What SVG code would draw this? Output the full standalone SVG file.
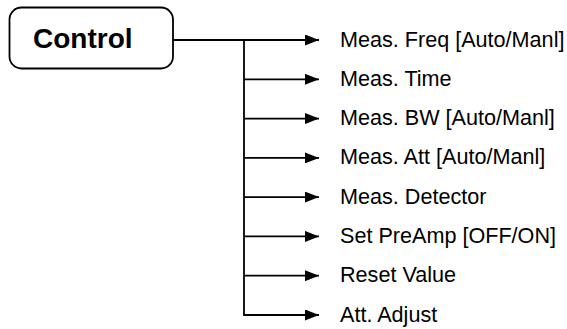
<svg xmlns="http://www.w3.org/2000/svg" width="567" height="329" viewBox="0 0 567 329">
<style>
.ln{stroke:#000;stroke-width:1.8;fill:none}
.lbl{font-family:"Liberation Sans",Arial,sans-serif;font-size:21.6px;fill:#000}
.ttl{font-family:"Liberation Sans",Arial,sans-serif;font-size:28px;font-weight:bold;fill:#000}
</style>
<defs>
<marker id="ah" markerWidth="14" markerHeight="11" refX="14" refY="5.5" orient="auto" markerUnits="userSpaceOnUse">
<path d="M0,0 L14,5.5 L0,11 Z" fill="#000"/>
</marker>
</defs>
<rect width="567" height="329" fill="#fff"/>
<g id="control">
<rect x="9.5" y="7.5" width="163.5" height="61" rx="12" ry="12" fill="#fff" stroke="#000" stroke-width="1.8"/>
<text class="ttl" x="33" y="48">Control</text>
</g>
<g id="connectors">
<path class="ln" d="M173,40 H319" marker-end="url(#ah)"/>
<path class="ln" d="M244,40 V315"/>
<path class="ln" d="M244,79.3 H319" marker-end="url(#ah)"/>
<path class="ln" d="M244,118.6 H319" marker-end="url(#ah)"/>
<path class="ln" d="M244,157.9 H319" marker-end="url(#ah)"/>
<path class="ln" d="M244,197.1 H319" marker-end="url(#ah)"/>
<path class="ln" d="M244,236.4 H319" marker-end="url(#ah)"/>
<path class="ln" d="M244,275.7 H319" marker-end="url(#ah)"/>
<path class="ln" d="M243.1,315 H319" marker-end="url(#ah)"/>
</g>
<g id="n1"><text class="lbl" x="340" y="46.5">Meas. Freq [Auto/Manl]</text></g>
<g id="n2"><text class="lbl" x="340" y="85.8">Meas. Time</text></g>
<g id="n3"><text class="lbl" x="340" y="125.1">Meas. BW [Auto/Manl]</text></g>
<g id="n4"><text class="lbl" x="340" y="164.4">Meas. Att [Auto/Manl]</text></g>
<g id="n5"><text class="lbl" x="340" y="203.6">Meas. Detector</text></g>
<g id="n6"><text class="lbl" x="340" y="242.9">Set PreAmp [OFF/ON]</text></g>
<g id="n7"><text class="lbl" x="340" y="282.2">Reset Value</text></g>
<g id="n8"><text class="lbl" x="340" y="321.5">Att. Adjust</text></g>
</svg>
